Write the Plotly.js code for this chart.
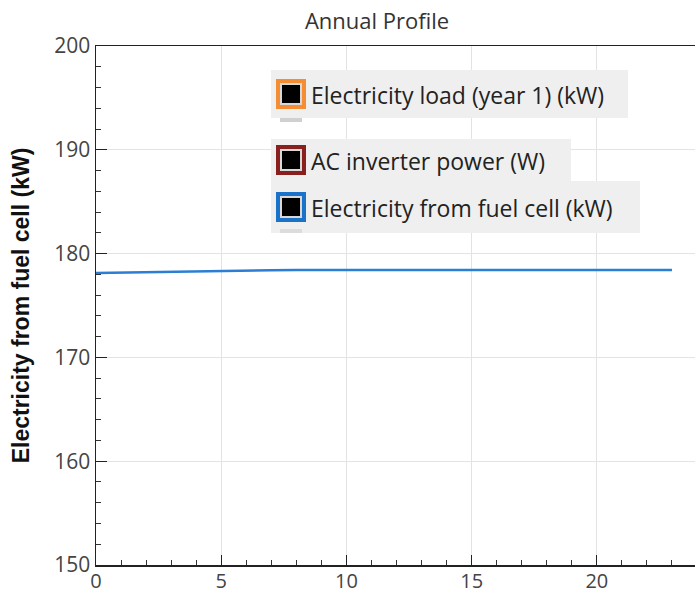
<!DOCTYPE html>
<html>
<head>
<meta charset="utf-8">
<script src="https://cdn.plot.ly/plotly-3.0.1.min.js"></script>
<style>html,body{margin:0;padding:0;background:#fff;}#chart{width:695px;height:596px;}</style>
</head>
<body>
<div id="chart"></div>
<script>
// ---- data ----
var chartTitle = 'Annual Profile';
var yAxisTitle = 'Electricity from fuel cell (kW)';
var hours = [0,1,2,3,4,5,6,7,8,9,10,11,12,13,14,15,16,17,18,19,20,21,22,23];
var fuelCellKW = [178.12,178.17,178.22,178.27,178.31,178.35,178.38,178.40,178.41,178.42,178.42,178.42,178.42,178.42,178.42,178.41,178.41,178.40,178.40,178.40,178.40,178.41,178.42,178.43];
var legendNames = ['Electricity load (year 1) (kW)', 'AC inverter power (W)', 'Electricity from fuel cell (kW)'];
var legendColors = ['#f58d33', '#8a1f1f', '#1a72c9'];
var xTicks = [0,5,10,15,20];
var yTicks = [150,160,170,180,190,200];

// ---- layout helpers (pixel -> paper) ----
var L = 96, R = 695, T = 46, B = 565, W = 695, H = 596;
function px(X){ return (X - L) / (R - L); }
function py(Y){ return (B - Y) / (B - T); }

var font = '"Open Sans", "Noto Sans", sans-serif';

// legend boxes (pixel geometry)
var boxes = [
  {x0:271, x1:628, y0:70,  y1:118},
  {x0:271, x1:571, y0:139, y1:181},
  {x0:271, x1:640, y0:181, y1:233}
];
var shapes = [];
var annotations = [];
boxes.forEach(function(b, i){
  shapes.push({type:'rect', xref:'paper', yref:'paper', x0:px(b.x0), x1:px(b.x1), y0:py(b.y1), y1:py(b.y0),
    fillcolor:'#efefef', line:{width:0}, layer:'above'});
  var cy = (b.y0 + b.y1) / 2;
  // icon: colored square, light ring, black core
  shapes.push({type:'rect', xref:'paper', yref:'paper', x0:px(276), x1:px(306), y0:py(cy+15), y1:py(cy-15),
    fillcolor:legendColors[i], line:{width:0}, layer:'above'});
  shapes.push({type:'rect', xref:'paper', yref:'paper', x0:px(280), x1:px(302), y0:py(cy+11), y1:py(cy-11),
    fillcolor:'#d8d8d8', line:{width:0}, layer:'above'});
  shapes.push({type:'rect', xref:'paper', yref:'paper', x0:px(282), x1:px(300), y0:py(cy+9), y1:py(cy-9),
    fillcolor:'#000000', line:{width:0}, layer:'above'});
  annotations.push({xref:'paper', yref:'paper', x:px(309), y:py(cy+1), xanchor:'left', yanchor:'middle',
    text:legendNames[i], showarrow:false, font:{family:font, size:23, color:'#222222'}});
});
// small clipped fragments of hidden legend icons
shapes.push({type:'rect', xref:'paper', yref:'paper', x0:px(280), x1:px(302), y0:py(122), y1:py(118),
  fillcolor:'#d0d0d0', line:{width:0}, layer:'above'});
shapes.push({type:'rect', xref:'paper', yref:'paper', x0:px(280), x1:px(302), y0:py(233), y1:py(229),
  fillcolor:'#dcdcdc', line:{width:0}, layer:'above'});

var trace = {
  x: hours, y: fuelCellKW, type:'scatter', mode:'lines',
  line:{color:'#2a7fd4', width:2.5}, showlegend:false, hoverinfo:'x+y'
};

var layout = {
  width: W, height: H,
  margin: {l:L, r:W-R, t:T, b:H-B, pad:0},
  paper_bgcolor:'#ffffff', plot_bgcolor:'#ffffff',
  title: {text: chartTitle, x: 377/W, xref:'container', xanchor:'center', y: 1 - 21/H, yref:'container', yanchor:'middle',
    font:{family:font, size:22, color:'#333333'}},
  showlegend:false,
  xaxis: {
    range:[0, 23.92], tickvals:xTicks, ticks:'inside', ticklen:10, tickwidth:1.2, tickcolor:'#222',
    showline:true, linecolor:'#222', linewidth:1.5, mirror:true,
    showgrid:true, gridcolor:'#e3e3e3', gridwidth:1, zeroline:false,
    minor:{dtick:1, ticks:'inside', ticklen:5, tickcolor:'#333', tickwidth:1, showgrid:false},
    tickfont:{family:font, size:20, color:'#444'}, ticklabelstandoff:-3, fixedrange:true
  },
  yaxis: {
    range:[150, 200], tickvals:yTicks, ticks:'inside', ticklen:11, tickwidth:1.2, tickcolor:'#222',
    showline:true, linecolor:'#222', linewidth:1.5,
    showgrid:true, gridcolor:'#e3e3e3', gridwidth:1, zeroline:false,
    minor:{dtick:2, ticks:'inside', ticklen:5, tickcolor:'#333', tickwidth:1, showgrid:false},
    tickfont:{family:font, size:21, color:'#444'},
    title:{text:yAxisTitle, standoff:18, font:{family:'"Liberation Sans", Arial, sans-serif', size:23, color:'#111', weight:'bold'}},
    fixedrange:true
  },
  shapes: shapes,
  annotations: annotations
};

Plotly.newPlot('chart', [trace], layout, {displayModeBar:false, staticPlot:true});
</script>
</body>
</html>
